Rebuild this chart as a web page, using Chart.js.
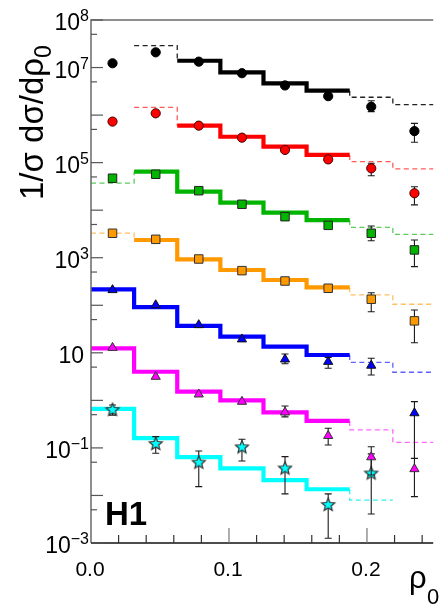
<!DOCTYPE html>
<html>
<head>
<meta charset="utf-8">
<script src="https://cdn.jsdelivr.net/npm/chart.js@4.4.1/dist/chart.umd.min.js"></script>
<style>
  html, body { margin: 0; padding: 0; background: #fff; }
  #wrap { width: 441px; height: 611px; overflow: hidden; }
</style>
</head>
<body>
<div id="wrap"><canvas id="rho_chart" width="441" height="611"></canvas></div>
<script>
// bins in rho_0
const binEdges = [0, 0.03125, 0.0625, 0.09375, 0.125, 0.15625, 0.1875, 0.21875, 0.25];
const binCenters = [0.0156, 0.0469, 0.0781, 0.1094, 0.1406, 0.1719, 0.2031, 0.2344];

// data points (each set scaled by 100 in the plot)
const dataBlack   = [1.23e7, 2.09e7, 1.33e7, 7.6e6, 4.2e6, 2.5e6, 1.5e6, 4.6e5];
const dataRed     = [7.3e5, 1.09e6, 6.0e5, 3.35e5, 1.85e5, 1.17e5, 7.6e4, 2.27e4];
const dataGreen   = [4.7e4, 5.7e4, 2.57e4, 1.33e4, 7.3e3, 4.8e3, 3.27e3, 1.46e3];
const dataOrange  = [3.27e3, 2.44e3, 940, 535, 324, 228, 134, 47];
const dataBlue    = [210, 101, 38.5, 19.3, 7.3, 6.5, 5.4, 0.54];
const dataMagenta = [12.8, 3.15, 1.34, 0.94, 0.56, 0.18, 0.064, 0.036];
const dataCyan    = [0.63, 0.121, 0.049, 0.103, 0.037, 0.0063, 0.029, null];

// error bars (upper / lower ends), null = too small to show
const hiBlack   = [null, null, null, null, null, null, 2.0e6, 6.7e5];
const loBlack   = [null, null, null, null, null, null, 1.18e6, 2.68e5];
const hiRed     = [null, null, null, null, 2.05e5, 1.28e5, 9.7e4, 3.12e4];
const loRed     = [null, null, null, null, 1.65e5, 1.06e5, 5.3e4, 1.29e4];
const hiGreen   = [null, null, null, null, 8.0e3, 5.3e3, 4.65e3, 2.36e3];
const loGreen   = [null, null, null, null, 6.6e3, 4.35e3, 2.28e3, 649];
const hiOrange  = [null, null, null, 590, 360, 250, 184, 79.6];
const loOrange  = [null, null, null, 485, 292, 207, 73.3, 16.3];
const hiBlue    = [null, null, null, null, 9.46, 8.0, 7.67, 0.94];
const loBlue    = [null, null, null, null, 5.9, 4.73, 3.42, 0.06];
const hiMagenta = [null, null, null, null, 0.76, 0.259, 0.106, 0.0605];
const loMagenta = [null, null, null, null, 0.45, 0.115, 0.027, 0.00944];
const hiCyan    = [0.80, 0.173, 0.0863, 0.152, 0.0655, 0.0108, 0.075, null];
const loCyan    = [0.49, 0.0773, 0.0153, 0.0532, 0.0108, 0.00126, 0.00408, null];

// model histograms
const histBlack   = [null, 2.88e7, 1.39e7, 7.9e6, 4.66e6, 3.26e6, 2.37e6, 1.66e6];
const histRed     = [null, 1.46e6, 6.0e5, 3.5e5, 2.17e5, 1.45e5, 1.05e5, 7.4e4];
const histGreen   = [3.7e4, 6.45e4, 2.45e4, 1.44e4, 8.9e3, 6.2e3, 4.36e3, 3.1e3];
const histOrange  = [3.3e3, 2.36e3, 927, 552, 340, 239, 165, 105];
const histBlue    = [217, 91, 37, 22, 13.5, 9.0, 6.3, 3.9];
const histMagenta = [12.4, 4.0, 1.52, 1.0, 0.56, 0.37, 0.24, 0.131];
const histCyan    = [0.66, 0.16, 0.064, 0.037, 0.021, 0.0135, 0.008, null];

// first / last bin of the solid part of each histogram
const solidFrom = [2, 2, 1, 1, 0, 0, 0];
const solidTo   = [5, 5, 5, 5, 5, 5, 5];

const yTickExps = [8, 7, 5, 3, 1, -1, -3];
const xTickLabels = ['0.0', '0.1', '0.2'];
const xTickValues = [0, 0.1, 0.2];

const colors     = ['#000000', '#ff0000', '#00b400', '#ff9900', '#0000ff', '#ff00ff', '#00ffff'];
const dashColors = ['#222222', '#ff5a5a', '#5ccc5c', '#ffbf60', '#6060ff', '#ff66ff', '#30f0f0'];

function makeStar(r, fill) {
  const size = Math.ceil(r * 2 + 4);
  const c = document.createElement('canvas');
  c.width = c.height = size;
  const g = c.getContext('2d');
  g.translate(size / 2, size / 2);
  g.beginPath();
  for (let k = 0; k < 10; k++) {
    const rad = k % 2 === 0 ? r : r * 0.45;
    const a = -Math.PI / 2 + k * Math.PI / 5;
    g.lineTo(rad * Math.cos(a), rad * Math.sin(a));
  }
  g.closePath();
  g.fillStyle = fill;
  g.fill();
  g.strokeStyle = '#333';
  g.lineWidth = 1.2;
  g.stroke();
  return c;
}

const markers = [
  { style: 'circle', radius: 4.6, border: '#000' },
  { style: 'circle', radius: 4.6, border: '#400' },
  { style: 'rect', radius: 6, border: '#222' },
  { style: 'rect', radius: 6, border: '#333' },
  { style: 'triangle', radius: 5.3, border: '#111' },
  { style: 'triangle', radius: 5.3, border: '#333' },
  { style: makeStar(6.8, '#00ffff'), radius: 6.8, border: '#333' }
];

const pointSets = [dataBlack, dataRed, dataGreen, dataOrange, dataBlue, dataMagenta, dataCyan];
const hiSets = [hiBlack, hiRed, hiGreen, hiOrange, hiBlue, hiMagenta, hiCyan];
const loSets = [loBlack, loRed, loGreen, loOrange, loBlue, loMagenta, loCyan];
const histSets = [histBlack, histRed, histGreen, histOrange, histBlue, histMagenta, histCyan];

function steps(vals, from, to) {
  const pts = [];
  for (let i = from; i <= to; i++) {
    if (vals[i] == null) continue;
    pts.push({ x: binEdges[i], y: vals[i] });
    pts.push({ x: binEdges[i + 1], y: vals[i] });
  }
  return pts;
}

const datasets = [];
histSets.forEach((h, s) => {
  const a = solidFrom[s], b = solidTo[s];
  datasets.push({
    data: steps(h, a, b), borderColor: colors[s], borderWidth: 4.2,
    pointRadius: 0, showLine: true, order: 2, borderJoinStyle: 'miter'
  });
  const left = steps(h, 0, a - 1);
  if (left.length) {
    left.push({ x: binEdges[a], y: h[a] });
    datasets.push({
      data: left, borderColor: dashColors[s], borderWidth: 1.3, borderDash: [5, 3.5],
      pointRadius: 0, showLine: true, order: 3
    });
  }
  const right = [{ x: binEdges[b + 1], y: h[b] }].concat(steps(h, b + 1, h.length - 1));
  datasets.push({
    data: right, borderColor: dashColors[s], borderWidth: 1.3, borderDash: [5, 3.5],
    pointRadius: 0, showLine: true, order: 3
  });
});
pointSets.forEach((p, s) => {
  const pts = [];
  p.forEach((v, i) => { if (v != null) pts.push({ x: binCenters[i], y: v, hi: hiSets[s][i], lo: loSets[s][i] }); });
  datasets.push({
    data: pts, showLine: false, order: 1,
    pointStyle: markers[s].style, pointRadius: markers[s].radius,
    backgroundColor: colors[s], borderColor: markers[s].border, borderWidth: 1,
    errorBars: true
  });
});

const FONT = '"Liberation Sans", Arial, Helvetica, sans-serif';

const errorBarPlugin = {
  id: 'errorBars',
  beforeDatasetDraw(chart, args) {
    const ds = chart.data.datasets[args.index];
    if (!ds.errorBars) return;
    const ctx = chart.ctx, xs = chart.scales.x, ys = chart.scales.y;
    ctx.save();
    ctx.strokeStyle = '#1a1a1a';
    ctx.lineWidth = 1.1;
    ds.data.forEach(pt => {
      if (pt.hi == null) return;
      const x = xs.getPixelForValue(pt.x);
      const y1 = ys.getPixelForValue(pt.hi), y2 = ys.getPixelForValue(pt.lo);
      ctx.beginPath();
      ctx.moveTo(x, y1); ctx.lineTo(x, y2);
      ctx.moveTo(x - 3.5, y1); ctx.lineTo(x + 3.5, y1);
      ctx.moveTo(x - 3.5, y2); ctx.lineTo(x + 3.5, y2);
      ctx.stroke();
    });
    ctx.restore();
  }
};

const framePlugin = {
  id: 'frame',
  afterDatasetsDraw(chart) {
    const ctx = chart.ctx, xs = chart.scales.x, ys = chart.scales.y;
    const { left, right, top, bottom } = chart.chartArea;
    ctx.save();
    // frame
    ctx.lineWidth = 1.5;
    ctx.strokeStyle = '#6a6a6a';
    ctx.beginPath();
    ctx.moveTo(left, bottom); ctx.lineTo(left, top); ctx.lineTo(right, top);
    ctx.stroke();
    ctx.strokeStyle = '#111';
    ctx.beginPath();
    ctx.moveTo(left, bottom); ctx.lineTo(right, bottom);
    ctx.stroke();
    // y ticks
    ctx.lineWidth = 1.2;
    ctx.strokeStyle = '#555';
    for (let e = -3; e <= 8; e++) {
      const y = ys.getPixelForValue(Math.pow(10, e));
      ctx.beginPath(); ctx.moveTo(left, y); ctx.lineTo(left + 12, y); ctx.stroke();
      if (e < 8) {
        const ym = ys.getPixelForValue(5 * Math.pow(10, e));
        ctx.beginPath(); ctx.moveTo(left, ym); ctx.lineTo(left + 6, ym); ctx.stroke();
      }
    }
    // x ticks
    for (let k = 1; k <= 12; k++) {
      const v = k * 0.02;
      if (v > xs.max) break;
      const x = xs.getPixelForValue(v);
      const major = k % 5 === 0;
      ctx.strokeStyle = major ? '#777' : '#333';
      ctx.beginPath(); ctx.moveTo(x, bottom); ctx.lineTo(x, bottom - (major ? 15 : 8)); ctx.stroke();
    }
    // y labels
    ctx.fillStyle = '#000';
    ctx.textBaseline = 'alphabetic';
    yTickExps.forEach(e => {
      const y = ys.getPixelForValue(Math.pow(10, e));
      const sup = e === 1 ? '' : String(e).replace('-', '\u2212');
      ctx.font = '16px ' + FONT;
      const ws = sup ? ctx.measureText(sup).width : 0;
      const rx = sup ? 89 : 84;
      ctx.textAlign = 'right';
      if (sup) ctx.fillText(sup, rx, y + 1);
      ctx.font = '23px ' + FONT;
      ctx.fillText('10', rx - ws, y + 10);
    });
    // x labels
    ctx.font = '21px ' + FONT;
    ctx.textAlign = 'center';
    xTickValues.forEach((v, i) => {
      ctx.fillText(xTickLabels[i], xs.getPixelForValue(v) - 1, 576);
    });
    // axis titles
    ctx.textAlign = 'left';
    ctx.font = '31px ' + FONT;
    ctx.fillText('\u03c1', 409, 588);
    ctx.font = '22px ' + FONT;
    ctx.fillText('0', 427, 604);

    ctx.save();
    ctx.translate(43, 200);
    ctx.rotate(-Math.PI / 2);
    ctx.font = '33px ' + FONT;
    const main = '1/\u03c3 d\u03c3/d\u03c1';
    ctx.fillText(main, 0, 0);
    const w = ctx.measureText(main).width;
    ctx.font = '23px ' + FONT;
    ctx.fillText('0', w, 8);
    ctx.restore();

    // experiment tag
    ctx.font = 'bold 33px ' + FONT;
    ctx.fillText('H1', 105, 525);
    ctx.restore();
  }
};

new Chart(document.getElementById('rho_chart'), {
  type: 'scatter',
  data: { datasets: datasets },
  options: {
    responsive: false,
    animation: false,
    devicePixelRatio: 1,
    layout: { padding: { left: 91, right: 0, top: 20, bottom: 68 } },
    scales: {
      x: { type: 'linear', min: 0, max: 0.248, display: false },
      y: { type: 'logarithmic', min: 1e-3, max: 1e8, display: false }
    },
    plugins: { legend: { display: false }, tooltip: { enabled: false } }
  },
  plugins: [errorBarPlugin, framePlugin]
});
</script>
</body>
</html>
